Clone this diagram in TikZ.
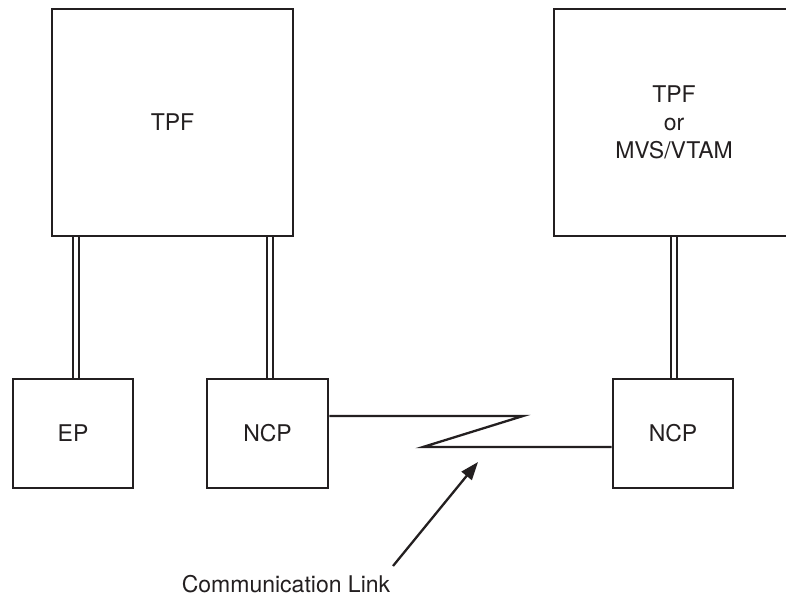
\documentclass[tikz,border=0pt]{standalone}
\usepackage{fontspec}
\setmainfont{TeX Gyre Heros}
\usetikzlibrary{arrows.meta}
\definecolor{ink}{HTML}{231F20}
\tikzset{
  boxnode/.style={draw=ink, line width=2.8pt, align=center, inner sep=0pt, text=ink,
    font=\fontsize{23}{28}\selectfont},
  dbl/.style={draw=ink, line width=2.2pt, double=white, double distance=3.4pt},
  link/.style={draw=ink, line width=2.3pt, line join=miter},
  pointer/.style={draw=ink, line width=2.3pt, -{Triangle[length=18pt,width=13pt]}},
}
\begin{document}
\begin{tikzpicture}[x=1pt,y=-1pt]
\useasboundingbox[fill=white] (0,0) rectangle (786,596);
\clip (0,0) rectangle (786,596);
\node[boxnode, minimum width=241pt, minimum height=227pt] (tpf) at (172.5,122.5) {TPF};
\node[boxnode, minimum width=240pt, minimum height=227pt] (host) at (674,122.5) {TPF\\or\\MVS/VTAM};
\node[boxnode, minimum width=120pt, minimum height=109pt] (ep) at (73,433.5) {EP};
\node[boxnode, minimum width=121pt, minimum height=109pt] (ncpa) at (267.5,433.5) {NCP};
\node[boxnode, minimum width=120pt, minimum height=109pt] (ncpb) at (673,433.5) {NCP};
\draw[dbl] ([xshift=3pt]ep.north) -- ([xshift=3pt]ep.north |- tpf.south);
\draw[dbl] ([xshift=2.5pt]ncpa.north) -- ([xshift=2.5pt]ncpa.north |- tpf.south);
\draw[dbl] ([xshift=1pt]ncpb.north) -- ([xshift=1pt]ncpb.north |- host.south);
\coordinate (za) at (523,416);
\coordinate (zb) at (423,447);
\draw[link] ([yshift=17.5pt]ncpa.east) -- (za) -- (zb) -- ([yshift=-13.5pt]ncpb.west);
\node[text=ink, font=\fontsize{23}{28}\selectfont, inner sep=0pt] (lbl) at (286,584) {Communication Link};
\coordinate (tail) at (393,566);
\coordinate (tip) at (478,462);
\draw[pointer] (tail) -- (tip);
\end{tikzpicture}
\end{document}
